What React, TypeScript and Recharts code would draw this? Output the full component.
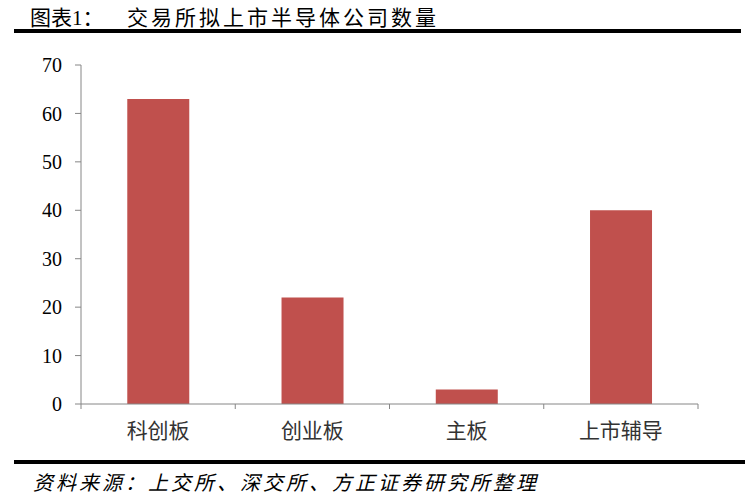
import React from "react";
import { BarChart, Bar, XAxis, YAxis } from "recharts";

const categories = ["科创板", "创业板", "主板", "上市辅导"];
const counts = [63, 22, 3, 40];
const yTicks = [0, 10, 20, 30, 40, 50, 60, 70];

const titleLabel = "图表1：";
const titleText = "交易所拟上市半导体公司数量";
const sourceText = "资料来源：上交所、深交所、方正证券研究所整理";

const data = categories.map((name, i) => ({ name, value: counts[i] }));

const W = 747;
const H = 500;
const xAxisHeight = 30;
const margin = { top: 65, right: 49, bottom: 96 - xAxisHeight, left: 21 };
const yAxisWidth = 60;
const plotW = W - margin.left - margin.right - yAxisWidth;
const BAND = plotW / categories.length;
const AXIS = "#868686";
const SERIF = "'Liberation Serif', 'Times New Roman', 'Noto Sans CJK SC', serif";
const CJK = "'Noto Sans CJK SC', sans-serif";

const CatTick = (props: any) => {
    const { x, y, payload, index } = props;
    return (
        <g>
            <line x1={x - BAND / 2} x2={x - BAND / 2} y1={y} y2={y + 5} stroke={AXIS} />
            {index === categories.length - 1 && (
                <line x1={x + BAND / 2} x2={x + BAND / 2} y1={y} y2={y + 5} stroke={AXIS} />
            )}
            <text x={x} y={y + 34} textAnchor="middle" fontFamily={CJK} fontSize={21} fill="#333">
                {payload.value}
            </text>
        </g>
    );
};

const App: React.FC = () => {
    return (
        <div style={{ position: "absolute", left: 0, top: 0, width: W, height: H, background: "#fff", overflow: "hidden" }}>
            <div style={{ position: "absolute", left: 30, top: 1, fontFamily: SERIF, fontSize: 21, color: "#000", whiteSpace: "nowrap" }}>
                {titleLabel}
            </div>
            <div style={{ position: "absolute", left: 127, top: 1, fontFamily: SERIF, fontSize: 21, letterSpacing: 3, color: "#000", whiteSpace: "nowrap" }}>
                {titleText}
            </div>
            <div style={{ position: "absolute", left: 14, top: 29, width: 727, height: 4, background: "#000" }} />
            <div style={{ position: "absolute", left: 0, top: 0 }}>
                <BarChart width={W} height={H} data={data} margin={margin} barCategoryGap="30%">
                    <XAxis
                        dataKey="name"
                        height={xAxisHeight}
                        stroke={AXIS}
                        tickLine={false}
                        tickSize={0}
                        tickMargin={0}
                        tick={<CatTick />}
                        interval={0}
                    />
                    <YAxis
                        width={yAxisWidth}
                        domain={[0, 70]}
                        ticks={yTicks}
                        stroke={AXIS}
                        tickSize={6}
                        tickMargin={13}
                        tick={{ fill: "#000", fontFamily: SERIF, fontSize: 20 }}
                        interval={0}
                    />
                    <Bar dataKey="value" fill="#C0504D" isAnimationActive={false} />
                </BarChart>
            </div>
            <div style={{ position: "absolute", left: 14, top: 460, width: 731, height: 4, background: "#000" }} />
            <div style={{ position: "absolute", left: 33, top: 467, fontFamily: SERIF, fontSize: 20, letterSpacing: 3, fontStyle: "italic", color: "#000", whiteSpace: "nowrap" }}>
                {sourceText}
            </div>
        </div>
    );
};

export default App;
